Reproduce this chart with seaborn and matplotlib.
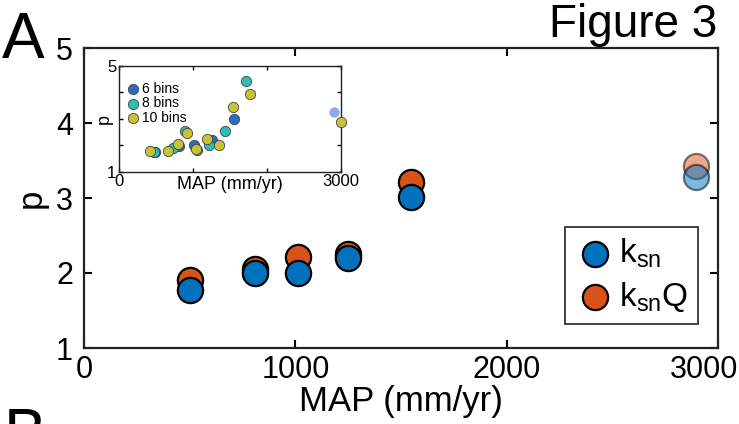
import numpy as np
import pandas as pd
import matplotlib
matplotlib.use('Agg')
import matplotlib.pyplot as plt
import matplotlib.transforms as mtransforms
import seaborn as sns

sns.set_theme(style="ticks")
plt.rcParams['font.family'] = ['Liberation Sans', 'DejaVu Sans']
plt.rcParams['mathtext.fontset'] = 'custom'
plt.rcParams['mathtext.rm'] = 'Liberation Sans'
plt.rcParams['text.color'] = 'black'
plt.rcParams['axes.labelcolor'] = 'black'

# ---- main panel data ----
map_main = [500, 807, 1011, 1251, 1549, 2894]
p_ksn = [1.77, 2.00, 2.00, 2.20, 3.02, 3.28]
p_ksnq = [1.91, 2.06, 2.21, 2.26, 3.21, 3.43]

# ---- inset data (bins) ----
map_6 = [489, 806, 1010, 1260, 1554]
p_6 = [1.75, 1.97, 2.00, 2.20, 3.00]
map_6_out = [2913]
p_6_out = [3.25]
map_8 = [480, 725, 893, 1051, 1223, 1441, 1722]
p_8 = [1.76, 1.89, 2.55, 1.82, 2.00, 2.55, 4.43]
map_10 = [421, 657, 802, 920, 1046, 1187, 1359, 1540, 1767, 3000]
p_10 = [1.78, 1.78, 2.04, 2.47, 1.87, 2.25, 2.01, 3.45, 3.95, 2.87]

blue = '#0072BD'
orange = '#D95319'
c6, c8, c10 = '#2A6CC0', '#2EBDB4', '#C8C235'

fig = plt.figure(figsize=(7.39, 4.24), dpi=100)
ax = fig.add_axes([84/739, 1-348/424, (718-84)/739, 300/424])
axin = fig.add_axes([119/739, 1-171.7/424, (340.7-119)/739, (171.7-66)/424])

main = pd.DataFrame({'MAP': map_main[:5], 'ksn': p_ksn[:5], 'ksnQ': p_ksnq[:5]})

# orange first so blue sits on top
sns.scatterplot(data=main, x='MAP', y='ksnQ', ax=ax, s=330, color=orange,
                edgecolor='black', linewidth=1.6, label=r'$\mathregular{k_{sn}Q}$', zorder=3)
sns.scatterplot(data=main, x='MAP', y='ksn', ax=ax, s=330, color=blue,
                edgecolor='black', linewidth=1.6, label=r'$\mathregular{k_{sn}}$', zorder=4)
# faded outlier
ax.scatter(map_main[5:], p_ksnq[5:], s=330, color=orange, alpha=0.5,
           edgecolor='black', linewidth=1.6, zorder=3)
ax.scatter(map_main[5:], p_ksn[5:], s=330, color=blue, alpha=0.5,
           edgecolor='black', linewidth=1.6, zorder=4)

ax.set_xlim(0, 3000)
ax.set_ylim(1, 5)
ax.set_xticks([0, 1000, 2000, 3000])
ax.set_yticks([1, 2, 3, 4, 5])
ax.tick_params(direction='in', top=True, right=True, length=6, width=1.5,
               labelsize=22, colors='black')
ax.tick_params(axis='x', pad=5)
ax.tick_params(axis='y', pad=8)
for sp in ax.spines.values():
    sp.set_linewidth(1.6)
    sp.set_color('#222222')
ax.set_xlabel('MAP (mm/yr)', fontsize=25, labelpad=0)
ax.set_ylabel('p', fontsize=25, labelpad=6)

# keep the last x label inside the figure
last = ax.get_xticklabels()[-1]
last.set_transform(last.get_transform() +
                   mtransforms.ScaledTranslation(-0.14, 0, fig.dpi_scale_trans))

h, l = ax.get_legend_handles_labels()
leg = ax.legend(h[::-1], l[::-1], loc='lower right', bbox_to_anchor=(0.968, 0.08),
                borderaxespad=0, fontsize=24, frameon=True, fancybox=False,
                handletextpad=0.1, borderpad=0.3, labelspacing=0.3, handlelength=1.2)
leg.get_frame().set_edgecolor('black')
leg.get_frame().set_linewidth(1.3)

# ---- inset ----
axin.set_facecolor('white')
d6 = pd.DataFrame({'MAP': map_6, 'p': p_6})
d8 = pd.DataFrame({'MAP': map_8, 'p': p_8})
d10 = pd.DataFrame({'MAP': map_10, 'p': p_10})
sns.scatterplot(data=d6, x='MAP', y='p', ax=axin, s=55, color=c6,
                edgecolor='#444444', linewidth=0.6, label='6 bins', clip_on=False, zorder=3)
sns.scatterplot(data=d8, x='MAP', y='p', ax=axin, s=55, color=c8,
                edgecolor='#444444', linewidth=0.6, label='8 bins', clip_on=False, zorder=4)
sns.scatterplot(data=d10, x='MAP', y='p', ax=axin, s=55, color=c10,
                edgecolor='#444444', linewidth=0.6, label='10 bins', clip_on=False, zorder=5)
axin.scatter(map_6_out, p_6_out, s=55, color='#8FAEDD', linewidth=0, clip_on=False, zorder=3)

axin.set_xlim(0, 3000)
axin.set_ylim(1, 5)
axin.set_xticks([0, 1000, 2000, 3000], labels=['0', '', '', '3000'])
axin.set_yticks([1, 2, 3, 4, 5], labels=['1', '', '', '', '5'])
axin.tick_params(direction='in', top=True, right=True, length=3, width=1,
                 labelsize=12, pad=2, colors='black')
for sp in axin.spines.values():
    sp.set_linewidth(1)
    sp.set_color('#222222')
axin.set_xlabel('MAP (mm/yr)', fontsize=13, labelpad=-10)
axin.set_ylabel('p', fontsize=13, labelpad=-4)
axin.legend(loc='upper left', bbox_to_anchor=(-0.01, 0.93), fontsize=10, frameon=False,
            handletextpad=0.0, labelspacing=0.05, borderaxespad=0.2, handlelength=1.2)

# panel letters and title
fig.text(2/739, 1-58/424, 'A', fontsize=46, va='baseline', ha='left')
fig.text(717/739, 1-37/424, 'Figure 3', fontsize=33, va='baseline', ha='right')
fig.text(4/739, 1-407/424, 'B', fontsize=46, va='top', ha='left')

fig.savefig('out.png', dpi=100)
